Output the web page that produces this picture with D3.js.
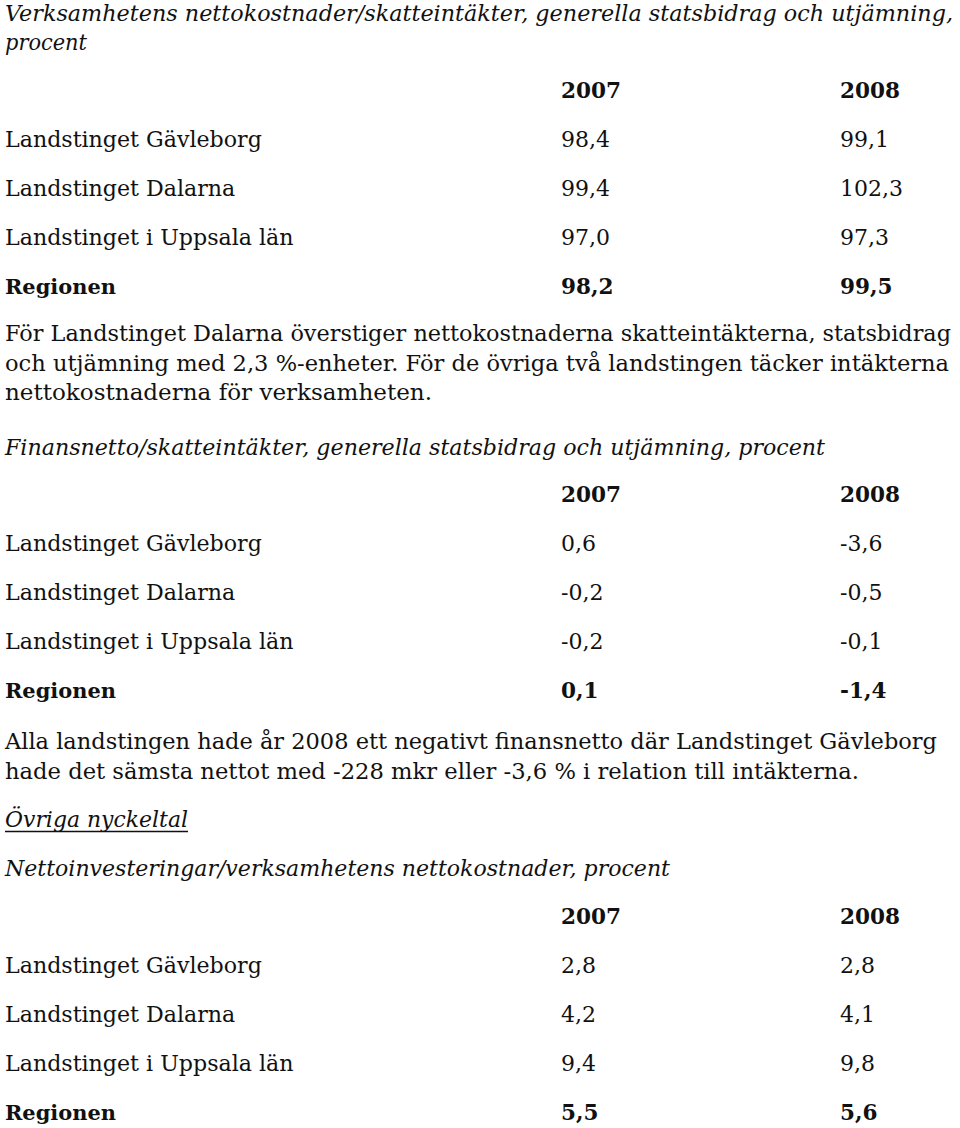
<!DOCTYPE html>
<html>
  <head>
    <meta charset="utf-8">
    <script type="text/javascript" src="https://cdn.jsdelivr.net/npm/d3@7"></script>
    <style type="text/css">

html, body {
  margin: 0;
  background: #fff;
}

svg {
  display: block;
}

text {
  fill: #111;
  font-family: "DejaVu Serif", serif;
}

text.italic {
  font-style: italic;
}

text.bold {
  font-weight: bold;
}

    </style>
  </head>
  <body>
    <div id="page"></div>
    <script type="text/javascript">

// Table data
var years = ["2007", "2008"];
var regions = ["Landstinget Gävleborg", "Landstinget Dalarna", "Landstinget i Uppsala län", "Regionen"];

var kostnader2007 = [98.4, 99.4, 97.0, 98.2];
var kostnader2008 = [99.1, 102.3, 97.3, 99.5];

var finans2007 = [0.6, -0.2, -0.2, 0.1];
var finans2008 = [-3.6, -0.5, -0.1, -1.4];

var invest2007 = [2.8, 4.2, 9.4, 5.5];
var invest2008 = [2.8, 4.1, 9.8, 5.6];

// Running text
var title1 = ["Verksamhetens nettokostnader/skatteintäkter, generella statsbidrag och utjämning,", "procent"];
var para1 = ["För Landstinget Dalarna överstiger nettokostnaderna skatteintäkterna, statsbidrag",
             "och utjämning med 2,3 %-enheter. För de övriga två landstingen täcker intäkterna",
             "nettokostnaderna för verksamheten."];
var title2 = ["Finansnetto/skatteintäkter, generella statsbidrag och utjämning, procent"];
var para2 = ["Alla landstingen hade år 2008 ett negativt finansnetto där Landstinget Gävleborg",
             "hade det sämsta nettot med -228 mkr eller -3,6 % i relation till intäkterna."];
var heading3 = "Övriga nyckeltal";
var title3 = ["Nettoinvesteringar/verksamhetens nettokostnader, procent"];

var sv = d3.formatLocale({decimal: ",", thousands: " ", grouping: [3], currency: ["", " kr"], minus: "-"});
var fmt = sv.format(".1f");

var width = 960, height = 1128;

var svg = d3.select("#page").append("svg")
    .attr("width", width)
    .attr("height", height);

// font size that makes a reference string a given width
function fitSize(cls, str, w) {
  var t = svg.append("text").attr("class", cls).style("font-size", "100px").text(str);
  var len = t.node().getComputedTextLength();
  t.remove();
  return 100 * w / len;
}

var bodySize = fitSize("", "Landstinget Gävleborg", 257);
var boldSize = fitSize("bold", "Regionen", 111);
var numSize = fitSize("", "102,3", 63);
var headSize = fitSize("bold", "2007", 60);
var italicSize = fitSize("italic", title2[0], 820);

// columns
var x = d3.scaleOrdinal()
    .domain(["label"].concat(years))
    .range([5, 561, 840]);

// lines of text, right edge given so each line spans like the original
function lines(data, cls, size, top, step, rights) {
  var g = svg.append("g");
  g.selectAll("text")
      .data(data)
    .enter().append("text")
      .attr("class", cls)
      .attr("x", 5)
      .attr("y", function(d, i) { return top + i * step; })
      .style("font-size", size + "px")
      .attr("textLength", function(d, i) { return rights[i] - 5; })
      .attr("lengthAdjust", "spacingAndGlyphs")
      .text(function(d) { return d; });
  return g;
}

function table(top, v2007, v2008) {
  var y = d3.scalePoint()
      .domain(["header"].concat(regions))
      .range([top, top + 4 * 49]);

  var g = svg.append("g");

  g.selectAll("text.year")
      .data(years)
    .enter().append("text")
      .attr("class", "year bold")
      .attr("x", function(d) { return x(d); })
      .attr("y", y("header"))
      .style("font-size", headSize + "px")
      .text(function(d) { return d; });

  var row = g.selectAll("g.row")
      .data(regions)
    .enter().append("g")
      .attr("class", "row")
      .attr("transform", function(d) { return "translate(0," + y(d) + ")"; });

  var isTotal = function(d) { return d === "Regionen"; };

  row.append("text")
      .attr("class", function(d) { return isTotal(d) ? "bold" : ""; })
      .attr("x", x("label"))
      .style("font-size", function(d) { return (isTotal(d) ? boldSize : bodySize) + "px"; })
      .text(function(d) { return d; });

  row.append("text")
      .attr("class", function(d) { return isTotal(d) ? "bold" : ""; })
      .attr("x", x("2007"))
      .style("font-size", function(d) { return (isTotal(d) ? headSize : numSize) + "px"; })
      .text(function(d, i) { return fmt(v2007[i]); });

  row.append("text")
      .attr("class", function(d) { return isTotal(d) ? "bold" : ""; })
      .attr("x", x("2008"))
      .style("font-size", function(d) { return (isTotal(d) ? headSize : numSize) + "px"; })
      .text(function(d, i) { return fmt(v2008[i]); });
}

// section 1
lines(title1, "italic", italicSize, 21, 29, [953, 87]);
table(98, kostnader2007, kostnader2008);
lines(para1, "", bodySize, 341, 29.7, [951, 949, 432]);

// section 2
lines(title2, "italic", italicSize, 455, 30, [825]);
table(502, finans2007, finans2008);
lines(para2, "", bodySize, 749, 29.7, [937, 859]);

// section 3
svg.append("text")
    .attr("class", "italic")
    .attr("x", 5)
    .attr("y", 827)
    .style("font-size", italicSize + "px")
    .attr("textLength", 183)
    .attr("lengthAdjust", "spacingAndGlyphs")
    .text(heading3);
svg.append("line")
    .attr("x1", 5)
    .attr("x2", 188)
    .attr("y1", 831.5)
    .attr("y2", 831.5)
    .style("stroke", "#111")
    .style("stroke-width", 1.3);

lines(title3, "italic", italicSize, 876, 30, [670]);
table(924, invest2007, invest2008);

    </script>
  </body>
</html>
